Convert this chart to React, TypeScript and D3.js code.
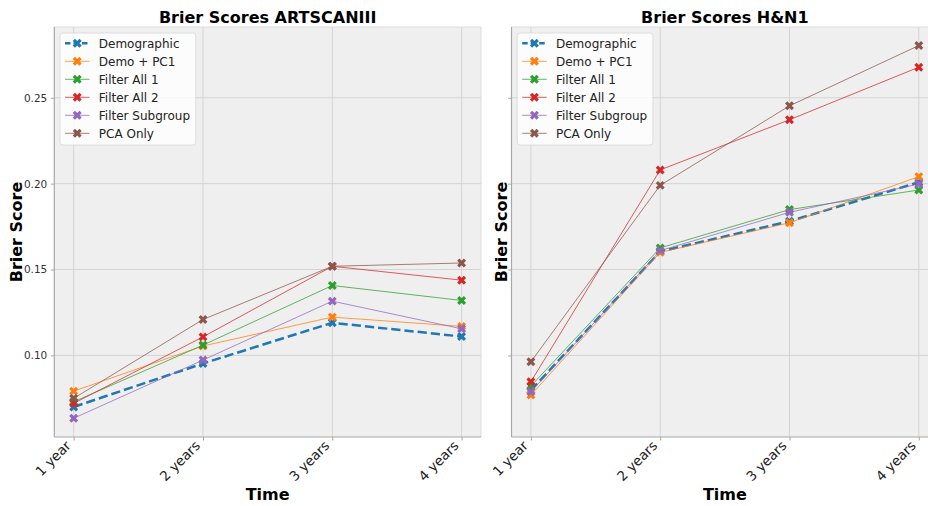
import React, { useEffect, useRef } from 'react';
import * as d3 from 'd3';

// Brier scores over time, two cohorts side by side (shared y axis)
const timeLabels = ['1 year', '2 years', '3 years', '4 years'];
const seriesNames = ['Demographic', 'Demo + PC1', 'Filter All 1', 'Filter All 2', 'Filter Subgroup', 'PCA Only'];
const seriesColors = ['#1f77b4', '#ff7f0e', '#2ca02c', '#d62728', '#9467bd', '#8c564b'];
const yTicks = [0.10, 0.15, 0.20, 0.25];

// ARTSCANIII
const artDemographic = [0.0700, 0.0953, 0.1190, 0.1110];
const artDemoPC1 = [0.0792, 0.1055, 0.1223, 0.1169];
const artFilterAll1 = [0.0730, 0.1060, 0.1407, 0.1320];
const artFilterAll2 = [0.0721, 0.1108, 0.1519, 0.1438];
const artFilterSubgroup = [0.0634, 0.0973, 0.1316, 0.1155];
const artPCAOnly = [0.0750, 0.1209, 0.1519, 0.1538];

// H&N1
const hnDemographic = [0.0797, 0.1605, 0.1781, 0.2008];
const hnDemoPC1 = [0.0769, 0.1600, 0.1772, 0.2041];
const hnFilterAll1 = [0.0822, 0.1626, 0.1849, 0.1963];
const hnFilterAll2 = [0.0847, 0.2080, 0.2372, 0.2678];
const hnFilterSubgroup = [0.0788, 0.1610, 0.1833, 0.1998];
const hnPCAOnly = [0.0963, 0.1990, 0.2453, 0.2804];

const panels = [
  {
    title: 'Brier Scores ARTSCANIII',
    left: 54.3,
    showYLabels: true,
    series: [artDemographic, artDemoPC1, artFilterAll1, artFilterAll2, artFilterSubgroup, artPCAOnly],
  },
  {
    title: 'Brier Scores H&N1',
    left: 511.5,
    showYLabels: false,
    series: [hnDemographic, hnDemoPC1, hnFilterAll1, hnFilterAll2, hnFilterSubgroup, hnPCAOnly],
  },
];

export default function App() {
  const ref = useRef<SVGSVGElement | null>(null);

  useEffect(() => {
    const width = 928;
    const height = 506;
    const top = 27;
    const bottom = 437;
    const panelW = 426.7;
    const font = 'DejaVu Sans, sans-serif';

    const svg = d3.select(ref.current);
    svg.selectAll('*').remove();
    svg.attr('width', width).attr('height', height).style('font-family', font);

    svg.append('rect').attr('width', width).attr('height', height).attr('fill', '#ffffff');

    const y = d3.scaleLinear().domain([0.0525, 0.2912]).range([bottom, top]);
    const marker = d3.symbol().type(d3.symbolCross).size(50);

    panels.forEach((p, pi) => {
      const right = p.left + panelW;
      const x = d3.scalePoint<string>().domain(timeLabels).range([p.left, right]).padding(0.15);
      const g = svg.append('g');

      const clipId = 'clip' + pi;
      g.append('clipPath').attr('id', clipId)
        .append('rect').attr('x', p.left).attr('y', top).attr('width', panelW).attr('height', bottom - top);

      // background
      g.append('rect')
        .attr('x', p.left).attr('y', top)
        .attr('width', panelW).attr('height', bottom - top)
        .attr('fill', '#efefef');

      // grid
      g.selectAll('line.hgrid').data(yTicks).enter().append('line')
        .attr('x1', p.left).attr('x2', right)
        .attr('y1', d => y(d)).attr('y2', d => y(d))
        .attr('stroke', '#d4d4d4').attr('stroke-width', 1);
      g.selectAll('line.vgrid').data(timeLabels).enter().append('line')
        .attr('x1', d => x(d)!).attr('x2', d => x(d)!)
        .attr('y1', top).attr('y2', bottom)
        .attr('stroke', '#d4d4d4').attr('stroke-width', 1);

      // spines
      g.append('line').attr('x1', p.left).attr('x2', right).attr('y1', top).attr('y2', top)
        .attr('stroke', '#dcdcdc');
      g.append('line').attr('x1', right).attr('x2', right).attr('y1', top).attr('y2', bottom)
        .attr('stroke', '#dcdcdc');
      g.append('line').attr('x1', p.left).attr('x2', p.left).attr('y1', top).attr('y2', bottom)
        .attr('stroke', '#a8a8a8').attr('stroke-width', 1.2);
      g.append('line').attr('x1', p.left).attr('x2', right).attr('y1', bottom).attr('y2', bottom)
        .attr('stroke', '#a8a8a8').attr('stroke-width', 1.2);

      // y axis
      const yAxis = d3.axisLeft(y)
        .tickValues(yTicks)
        .tickSize(3.5)
        .tickPadding(3.5)
        .tickFormat(p.showYLabels ? (d => d3.format('.2f')(d as number)) : () => '');
      const ya = g.append('g').attr('transform', `translate(${p.left},0)`).call(yAxis);
      ya.select('.domain').remove();
      ya.selectAll('.tick line').attr('stroke', '#a8a8a8');
      ya.selectAll('.tick text').attr('fill', '#333').style('font-size', '10.5px').style('font-family', font);

      // x axis, labels rotated 45 degrees and right-aligned to the tick
      const xa = g.append('g').attr('transform', `translate(0,${bottom})`)
        .call(d3.axisBottom(x).tickSize(3.5).tickPadding(4));
      xa.select('.domain').remove();
      xa.selectAll('.tick line').attr('stroke', '#a8a8a8');
      xa.selectAll('.tick text')
        .attr('fill', '#222')
        .style('font-size', '13.5px')
        .style('font-family', font)
        .attr('text-anchor', 'end')
        .attr('x', 0)
        .attr('y', 0)
        .attr('dy', null)
        .attr('transform', 'translate(-2.5,9.5) rotate(-45)');

      // series
      const lines = g.append('g').attr('clip-path', `url(#${clipId})`);
      p.series.forEach((vals, si) => {
        const isDemo = si === 0;
        const line = d3.line<number>()
          .x((_, i) => x(timeLabels[i])!)
          .y(d => y(d));
        lines.append('path')
          .attr('d', line(vals))
          .attr('fill', 'none')
          .attr('stroke', seriesColors[si])
          .attr('stroke-width', isDemo ? 2.5 : 1)
          .attr('stroke-opacity', isDemo ? 1 : 0.75)
          .attr('stroke-dasharray', isDemo ? '9.25,4' : null);
        lines.selectAll(null).data(vals).enter().append('path')
          .attr('d', marker()!)
          .attr('transform', (d, i) => `translate(${x(timeLabels[i])},${y(d)}) rotate(45)`)
          .attr('fill', seriesColors[si]);
      });

      // titles and labels
      const cx = p.left + panelW / 2;
      g.append('text')
        .attr('x', cx).attr('y', 23)
        .attr('text-anchor', 'middle')
        .attr('font-size', 16).attr('font-weight', 'bold')
        .text(p.title);
      g.append('text')
        .attr('x', cx).attr('y', 500)
        .attr('text-anchor', 'middle')
        .attr('font-size', 16).attr('font-weight', 'bold')
        .text('Time');
      const ylabX = p.showYLabels ? p.left - 32.6 : p.left - 5;
      g.append('text')
        .attr('transform', `translate(${ylabX},${(top + bottom) / 2}) rotate(-90)`)
        .attr('text-anchor', 'middle')
        .attr('font-size', 16).attr('font-weight', 'bold')
        .text('Brier Score');

      // legend
      const lg = g.append('g').attr('transform', `translate(${p.left + 5.7},33)`);
      lg.append('rect')
        .attr('width', 135.7).attr('height', 112)
        .attr('rx', 3)
        .attr('fill', '#ffffff').attr('fill-opacity', 0.8)
        .attr('stroke', '#d8d8d8').attr('stroke-width', 0.8);
      seriesNames.forEach((name, si) => {
        const isDemo = si === 0;
        const row = lg.append('g').attr('transform', `translate(0,${10.3 + si * 18})`);
        row.append('line')
          .attr('x1', 5).attr('x2', 29.5).attr('y1', 0).attr('y2', 0)
          .attr('stroke', seriesColors[si])
          .attr('stroke-width', isDemo ? 2.5 : 1)
          .attr('stroke-opacity', isDemo ? 1 : 0.75)
          .attr('stroke-dasharray', isDemo ? '5.5,3' : null);
        row.append('path')
          .attr('d', marker()!)
          .attr('transform', 'translate(17.2,0) rotate(45)')
          .attr('fill', seriesColors[si]);
        row.append('text')
          .attr('x', 38.8).attr('y', 0).attr('dy', '0.36em')
          .attr('font-size', 12).attr('fill', '#222')
          .text(name);
      });
    });
  }, []);

  return (
    <svg ref={ref} style={{ position: 'absolute', left: 0, top: 0, display: 'block' }} />
  );
}
